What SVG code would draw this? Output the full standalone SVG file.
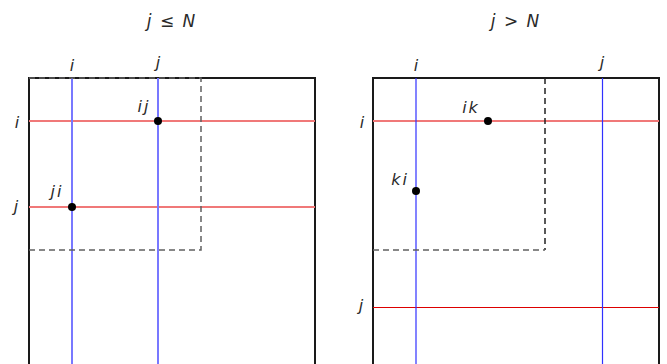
<svg xmlns="http://www.w3.org/2000/svg" width="667" height="364" viewBox="0 0 667 364">
<style>
text{font-family:"DejaVu Sans","Liberation Sans",sans-serif;font-style:italic;fill:#2a2a2a;font-size:16px}
.title{font-size:17px}
.box{fill:none;stroke:#1a1a1a;stroke-width:2}
.rowL{stroke:#f07878;stroke-width:2}
.colL{stroke:#7878ff;stroke-width:2}
.colR{stroke:#3030ff;stroke-width:1.2}
.rowR2{stroke:#dd0000;stroke-width:1.2}
.dash{fill:none;stroke:#606060;stroke-width:1.5;stroke-dasharray:6,4}
.dashk{fill:none;stroke:#222;stroke-width:1.5;stroke-dasharray:6,4}
.dot{fill:#000}
</style>
<g id="panel-left">
<text class="title" x="171" y="27" text-anchor="middle" word-spacing="3">j ≤ N</text>
<rect class="box" x="29" y="78" width="286" height="300"/>
<g id="lines-left">
<line class="rowL" x1="29" y1="121" x2="315" y2="121"/>
<line class="rowL" x1="29" y1="207" x2="315" y2="207"/>
<line class="colL" x1="72" y1="78" x2="72" y2="364"/>
<line class="colL" x1="158" y1="78" x2="158" y2="364"/>
<polyline class="dash" points="29,78 201,78 201,250 29,250"/>
</g>
<text x="72" y="71" text-anchor="middle">i</text>
<text x="158" y="68" text-anchor="middle">j</text>
<text x="17" y="128" text-anchor="middle">i</text>
<text x="16" y="212" text-anchor="middle">j</text>
<g id="node-ij"><circle class="dot" cx="158" cy="121" r="4"/><text x="144" y="112" text-anchor="middle" letter-spacing="2">ij</text></g>
<g id="node-ji"><circle class="dot" cx="72" cy="207" r="4"/><text x="57" y="197" text-anchor="middle" letter-spacing="2">ji</text></g>
</g>
<g id="panel-right">
<text class="title" x="515" y="27" text-anchor="middle" word-spacing="3">j &gt; N</text>
<rect class="box" x="373" y="78" width="286" height="300"/>
<g id="lines-right">
<line class="rowL" x1="373" y1="121" x2="659" y2="121"/>
<line class="rowR2" x1="373" y1="307.5" x2="659" y2="307.5"/>
<line class="colR" x1="416" y1="78" x2="416" y2="364"/>
<line class="colR" x1="602.5" y1="78" x2="602.5" y2="364"/>
<line class="dashk" x1="545" y1="78" x2="545" y2="250"/>
<line class="dash" x1="373" y1="250" x2="545" y2="250"/>
</g>
<text x="416" y="71" text-anchor="middle">i</text>
<text x="602" y="68" text-anchor="middle">j</text>
<text x="362" y="128" text-anchor="middle">i</text>
<text x="361" y="311" text-anchor="middle">j</text>
<g id="node-ik"><circle class="dot" cx="488" cy="121" r="4"/><text x="471" y="113" text-anchor="middle" letter-spacing="2">ik</text></g>
<g id="node-ki"><circle class="dot" cx="416" cy="191" r="4"/><text x="400" y="185" text-anchor="middle" letter-spacing="2">ki</text></g>
</g>
</svg>
